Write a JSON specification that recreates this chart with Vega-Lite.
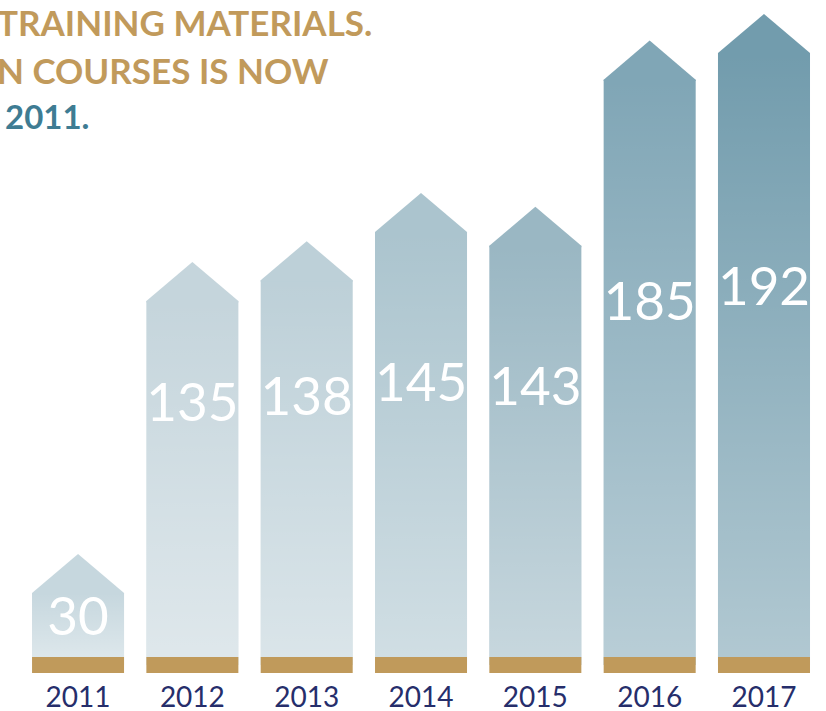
{
  "$schema": "https://vega.github.io/schema/vega-lite/v6.json",
  "width": 826,
  "height": 665,
  "padding": {"left": 0, "top": 0, "right": 0, "bottom": 46},
  "autosize": {"type": "none"},
  "background": "#ffffff",
  "config": {"view": {"stroke": null}},
  "title": {
    "text": ["TRAINING MATERIALS.", "N COURSES IS NOW"],
    "subtitle": "\u200b 2011.",
    "anchor": "start",
    "frame": "group",
    "orient": "top",
    "offset": -136,
    "dx": -3,
    "color": "#c19a5b",
    "font": "Lato",
    "fontSize": 35,
    "fontWeight": "bold",
    "lineHeight": 48,
    "subtitleColor": "#3e7c93",
    "subtitleFont": "Lato",
    "subtitleFontSize": 33,
    "subtitleFontWeight": "bold",
    "subtitleLineHeight": 48,
    "subtitlePadding": 12
  },
  "data": {
    "values": [
      {"year": "2011", "courses": 30},
      {"year": "2012", "courses": 135},
      {"year": "2013", "courses": 138},
      {"year": "2014", "courses": 145},
      {"year": "2015", "courses": 143},
      {"year": "2016", "courses": 185},
      {"year": "2017", "courses": 192}
    ]
  },
  "encoding": {
    "x": {
      "field": "year",
      "type": "ordinal",
      "scale": {"paddingInner": 0.195, "paddingOuter": 0.21, "align": 0.667},
      "axis": {
        "title": null,
        "domain": false,
        "ticks": false,
        "tickSize": 0,
        "labelAngle": 0,
        "labelPadding": 19,
        "labelFont": "Lato",
        "labelFontSize": 28,
        "labelColor": "#262e6b"
      }
    }
  },
  "layer": [
    {
      "encoding": {
        "y": {
          "field": "courses",
          "type": "quantitative",
          "scale": {"domain": [0, 30, 135, 145, 192], "range": [665, 593, 301, 232, 53], "zero": false, "nice": false},
          "axis": null
        }
      },
      "layer": [
        {
          "mark": {"type": "bar", "strokeWidth": 0},
          "encoding": {
            "y2": {"datum": 0},
            "color": {
              "field": "year",
              "type": "ordinal",
              "scale": {"range": ["#c6d7de", "#c5d5dc", "#bdd0d8", "#abc4ce", "#9ab7c3", "#80a6b6", "#729cad"]},
              "legend": null
            }
          }
        },
        {
          "mark": {
            "type": "bar",
            "strokeWidth": 0,
            "color": {
              "gradient": "linear",
              "x1": 0, "y1": 0, "x2": 0, "y2": 1,
              "stops": [
                {"offset": 0, "color": "rgba(255,255,255,0)"},
                {"offset": 1, "color": "rgba(255,255,255,0.45)"}
              ]
            }
          },
          "encoding": {
            "y2": {"datum": 0}
          }
        },
        {
          "mark": {
            "type": "point",
            "filled": true,
            "opacity": 1,
            "strokeWidth": 0,
            "shape": "M-1,0.03L-1,0L0,-0.85L1,0L1,0.03Z",
            "size": 8464
          },
          "encoding": {
            "color": {"field": "year", "type": "ordinal", "legend": null}
          }
        },
        {
          "mark": {"type": "tick", "orient": "horizontal", "thickness": 16, "size": 92, "color": "#c09a5b", "opacity": 1},
          "encoding": {
            "y": {"datum": 0, "type": "quantitative"}
          }
        }
      ]
    },
    {
      "mark": {"type": "text", "color": "#ffffff", "font": "Lato", "fontSize": 53, "baseline": "middle", "align": "center", "dy": 1},
      "encoding": {
        "y": {
          "field": "courses",
          "type": "quantitative",
          "scale": {"domain": [0, 200], "range": [679, 272], "zero": false, "nice": false},
          "axis": null
        },
        "text": {"field": "courses", "type": "quantitative"}
      }
    }
  ],
  "resolve": {"scale": {"y": "independent"}}
}
